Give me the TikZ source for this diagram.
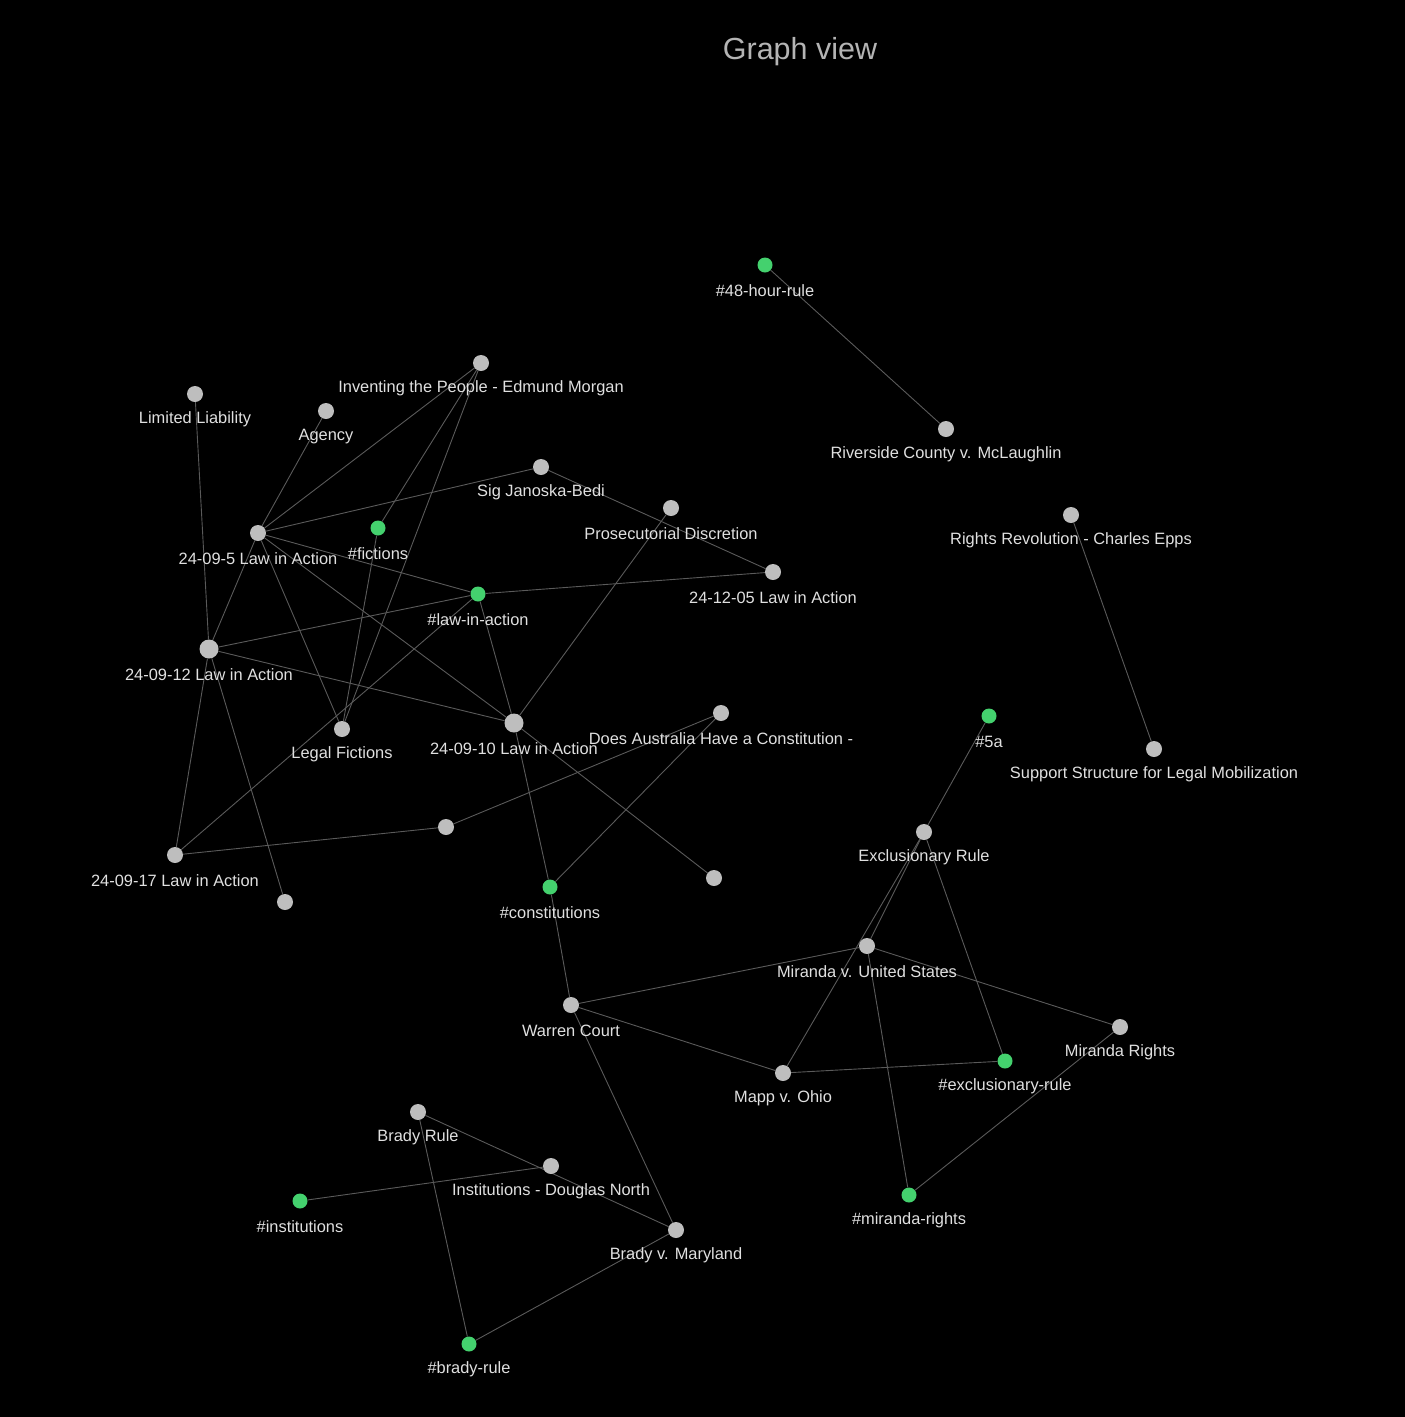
\documentclass[tikz,border=0pt]{standalone}
\usepackage{fontspec}
\setmainfont{Liberation Sans}
\definecolor{bgc}{HTML}{000000}
\definecolor{nodegray}{HTML}{BEBEBE}
\definecolor{nodegreen}{HTML}{44D16E}
\definecolor{edgec}{HTML}{5A5A5A}
\definecolor{labc}{HTML}{E0E0E0}
\definecolor{titlec}{HTML}{B4B4B4}
\pgfdeclarelayer{bg}
\pgfdeclarelayer{back}
\pgfsetlayers{back,bg,main}
\tikzset{
  gray node/.style={circle, fill=nodegray, minimum size=16pt, inner sep=0pt},
  big node/.style={circle, fill=nodegray, minimum size=19pt, inner sep=0pt},
  green node/.style={circle, fill=nodegreen, minimum size=15pt, inner sep=0pt},
  lab/.style={text=labc, font=\fontsize{16.4}{19}\selectfont, inner sep=0pt},
  edge/.style={draw=edgec, line width=0.9pt},
  title/.style={text=titlec, font=\fontsize{30.5}{34}\selectfont, inner sep=0pt}
}
\newcommand{\gnd}[5]{%
  \node[#1] (#2) at (#3,#4) {};
  \node[lab] (#2-l) at (#3,#4+25.5) {#5};
}
\begin{document}
\begin{tikzpicture}[x=1pt,y=-1pt]
\begin{pgfonlayer}{back}
\fill[bgc] (0,0) rectangle (1405,1417);
\end{pgfonlayer}
\useasboundingbox (0,0) rectangle (1405,1417);
\node[title] (ttl) at (800,52) {Graph view};
% gray nodes
\gnd{gray node}{inv}{481}{363}{Inventing the People - Edmund Morgan}
\gnd{gray node}{ll}{195}{394}{Limited Liability}
\gnd{gray node}{ag}{326}{411}{Agency}
\gnd{gray node}{sig}{541}{467}{Sig Janoska-Bedi}
\gnd{gray node}{pd}{671}{508}{Prosecutorial Discretion}
\gnd{gray node}{lfive}{258}{533}{24-09-5 Law in Action}
\gnd{gray node}{ldec}{773}{572}{24-12-05 Law in Action}
\gnd{big node}{ltwelve}{209}{649}{24-09-12 Law in Action}
\gnd{gray node}{lf}{342}{729}{Legal Fictions}
\gnd{big node}{lten}{514}{723}{24-09-10 Law in Action}
\gnd{gray node}{aus}{721}{713}{Does Australia Have a Constitution -}
\node[gray node] (hida) at (446,827) {};
\gnd{gray node}{lseventeen}{175}{855}{24-09-17 Law in Action}
\node[gray node] (hidb) at (285,902) {};
\node[gray node] (hidc) at (714,878) {};
\gnd{gray node}{rc}{946}{429}{Riverside County v. McLaughlin}
\gnd{gray node}{rr}{1071}{515}{Rights Revolution - Charles Epps}
\gnd{gray node}{ss}{1154}{749}{Support Structure for Legal Mobilization}
\gnd{gray node}{er}{924}{832}{Exclusionary Rule}
\gnd{gray node}{mus}{867}{946}{Miranda v. United States}
\gnd{gray node}{wc}{571}{1005}{Warren Court}
\gnd{gray node}{mr}{1120}{1027}{Miranda Rights}
\gnd{gray node}{mo}{783}{1073}{Mapp v. Ohio}
\gnd{gray node}{br}{418}{1112}{Brady Rule}
\gnd{gray node}{idn}{551}{1166}{Institutions - Douglas North}
\gnd{gray node}{bvm}{676}{1230}{Brady v. Maryland}
% green nodes
\gnd{green node}{hfe}{765}{265}{\#48-hour-rule}
\gnd{green node}{fic}{378}{528}{\#fictions}
\gnd{green node}{lia}{478}{594}{\#law-in-action}
\gnd{green node}{hfa}{989}{716}{\#5a}
\gnd{green node}{con}{550}{887}{\#constitutions}
\gnd{green node}{exr}{1005}{1061}{\#exclusionary-rule}
\gnd{green node}{mrr}{909}{1195}{\#miranda-rights}
\gnd{green node}{ins}{300}{1201}{\#institutions}
\gnd{green node}{brr}{469}{1344}{\#brady-rule}
% edges
\begin{pgfonlayer}{bg}
\draw[edge] (hfe) -- (rc);
\draw[edge] (rr) -- (ss);
\draw[edge] (inv) -- (lfive);
\draw[edge] (inv) -- (fic);
\draw[edge] (inv) -- (lf);
\draw[edge] (ag) -- (lfive);
\draw[edge] (ll) -- (ltwelve);
\draw[edge] (sig) -- (lfive);
\draw[edge] (sig) -- (ldec);
\draw[edge] (pd) -- (lten);
\draw[edge] (lfive) -- (lia);
\draw[edge] (lfive) -- (ltwelve);
\draw[edge] (lfive) -- (lf);
\draw[edge] (lfive) -- (lten);
\draw[edge] (lia) -- (ldec);
\draw[edge] (lia) -- (ltwelve);
\draw[edge] (lia) -- (lten);
\draw[edge] (lia) -- (lseventeen);
\draw[edge] (fic) -- (lf);
\draw[edge] (ltwelve) -- (lten);
\draw[edge] (ltwelve) -- (lseventeen);
\draw[edge] (ltwelve) -- (hidb);
\draw[edge] (lten) -- (con);
\draw[edge] (lten) -- (hidc);
\draw[edge] (aus) -- (hida);
\draw[edge] (aus) -- (con);
\draw[edge] (lseventeen) -- (hida);
\draw[edge] (con) -- (wc);
\draw[edge] (wc) -- (mus);
\draw[edge] (wc) -- (mo);
\draw[edge] (wc) -- (bvm);
\draw[edge] (mus) -- (mr);
\draw[edge] (mus) -- (er);
\draw[edge] (mus) -- (mrr);
\draw[edge] (er) -- (mo);
\draw[edge] (er) -- (exr);
\draw[edge] (er) -- (hfa);
\draw[edge] (mo) -- (exr);
\draw[edge] (mr) -- (mrr);
\draw[edge] (br) -- (bvm);
\draw[edge] (ins) -- (idn);
\draw[edge] (br) -- (brr);
\draw[edge] (bvm) -- (brr);
\end{pgfonlayer}
\end{tikzpicture}
\end{document}
